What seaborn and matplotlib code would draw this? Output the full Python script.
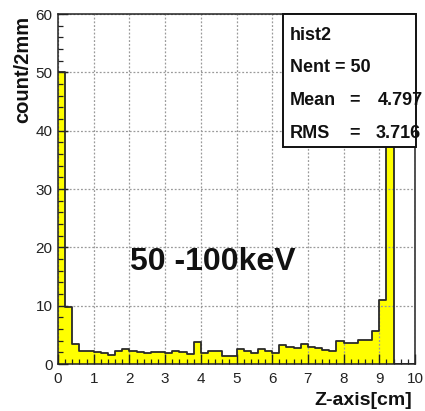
import numpy as np
import pandas as pd
import seaborn as sns
import matplotlib
matplotlib.use("Agg")
import matplotlib.pyplot as plt
from matplotlib.ticker import MultipleLocator
from matplotlib.patches import Rectangle

# Bin layout: 50 bins of 2 mm from 0 to 10 cm
bin_lo = 0.0
bin_hi = 10.0
bin_w = 0.2

# Counts per 2 mm bin along the Z axis
counts = [
    50.0, 9.7, 3.5, 2.2, 2.2, 2.0, 1.9, 1.5, 2.3, 2.6,
    2.3, 2.1, 1.9, 2.0, 2.0, 1.9, 2.2, 2.0, 1.7, 3.7,
    1.9, 2.3, 2.3, 1.4, 1.4, 2.5, 2.2, 1.9, 2.5, 2.2,
    1.9, 3.3, 3.0, 2.7, 3.4, 3.0, 2.7, 2.4, 2.3, 4.0,
    3.6, 3.6, 4.2, 4.2, 5.7, 11.0, 40.0, 0.0, 0.0, 0.0,
]

# Statistics box contents
stat_name = "hist2"
stat_nent = 50
stat_mean = 4.797
stat_rms = 3.716

energy_label = "50 -100keV"
x_title = "Z-axis[cm]"
y_title = "count/2mm"

centers = bin_lo + (np.arange(len(counts)) + 0.5) * bin_w
df = pd.DataFrame({"z": centers, "count": counts})

sns.set_theme(style="white")
plt.rcParams["font.family"] = ["Liberation Sans", "DejaVu Sans"]

fig = plt.figure(figsize=(4.25, 4.11), dpi=100)
fig.patch.set_facecolor("white")
ax = fig.add_axes([58 / 425, 47 / 411, 357 / 425, 350 / 411])
ax.set_facecolor("white")

# Filled bars, then the step outline on top
hist_kw = dict(data=df, x="z", weights="count", bins=len(counts),
               binrange=(bin_lo, bin_hi), element="step", ax=ax)
sns.histplot(fill=True, color="#ffff00", alpha=1.0, linewidth=0, zorder=2,
             **hist_kw)
sns.histplot(fill=False, color="#2a2a2a", linewidth=1.3, zorder=4, **hist_kw)

ax.set_xlim(bin_lo, bin_hi)
ax.set_ylim(0, 60)
ax.xaxis.set_major_locator(MultipleLocator(1))
ax.xaxis.set_minor_locator(MultipleLocator(0.2))
ax.yaxis.set_major_locator(MultipleLocator(10))
ax.yaxis.set_minor_locator(MultipleLocator(2))

ax.tick_params(axis="both", which="major", direction="in", length=7, width=1.0,
               color="#222222", labelsize=11, labelcolor="#222222")
ax.tick_params(axis="both", which="minor", direction="in", length=3.5, width=0.9,
               color="#222222")
ax.tick_params(axis="x", which="major", pad=6)
ax.tick_params(axis="y", which="major", pad=4)
ax.tick_params(top=False, right=False, which="both")
ax.tick_params(bottom=True, left=True, which="both")

ax.grid(True, which="major", linestyle=(0, (1.5, 1.5)), color="#9a9a9a",
        linewidth=0.9)
ax.set_axisbelow(False)
for gl in ax.get_xgridlines() + ax.get_ygridlines():
    gl.set_zorder(3)

for side in ["left", "bottom", "top", "right"]:
    ax.spines[side].set_visible(True)
    ax.spines[side].set_color("#222222")
    ax.spines[side].set_linewidth(1.1)
    ax.spines[side].set_zorder(5)

ax.set_xlabel("")
ax.set_ylabel("")
fig.text(412 / 425, 1 - 400 / 411, x_title, ha="right", va="center",
         fontsize=14, fontweight="bold", color="#111111")
fig.text(23 / 425, 1 - 16 / 411, y_title, ha="center", va="top", rotation=90,
         fontsize=14.5, fontweight="bold", color="#111111")

# Energy window label
fig.text(130 / 425, 1 - 270 / 411, energy_label, ha="left", va="baseline",
         fontsize=23, fontweight="bold", color="#111111")

# Statistics box
box = Rectangle((283 / 425, 1 - 147 / 411), (416 - 283) / 425, (147 - 14) / 411,
                transform=fig.transFigure, facecolor="white", edgecolor="#111111",
                linewidth=1.4, zorder=10)
fig.patches.append(box)
stat_kw = dict(fontsize=13, fontweight="bold", color="#111111", va="center",
               zorder=11)
fig.text(290 / 425, 1 - 35 / 411, stat_name, ha="left", **stat_kw)
fig.text(290 / 425, 1 - 68 / 411, f"Nent = {stat_nent}", ha="left", **stat_kw)
fig.text(290 / 425, 1 - 100 / 411, "Mean", ha="left", **stat_kw)
fig.text(355 / 425, 1 - 100 / 411, "=", ha="center", **stat_kw)
fig.text(423 / 425, 1 - 100 / 411, f"{stat_mean:.3f}", ha="right", **stat_kw)
fig.text(290 / 425, 1 - 133 / 411, "RMS", ha="left", **stat_kw)
fig.text(355 / 425, 1 - 133 / 411, "=", ha="center", **stat_kw)
fig.text(421 / 425, 1 - 133 / 411, f"{stat_rms:.3f}", ha="right", **stat_kw)

fig.savefig("out.png", dpi=100, facecolor="white")
